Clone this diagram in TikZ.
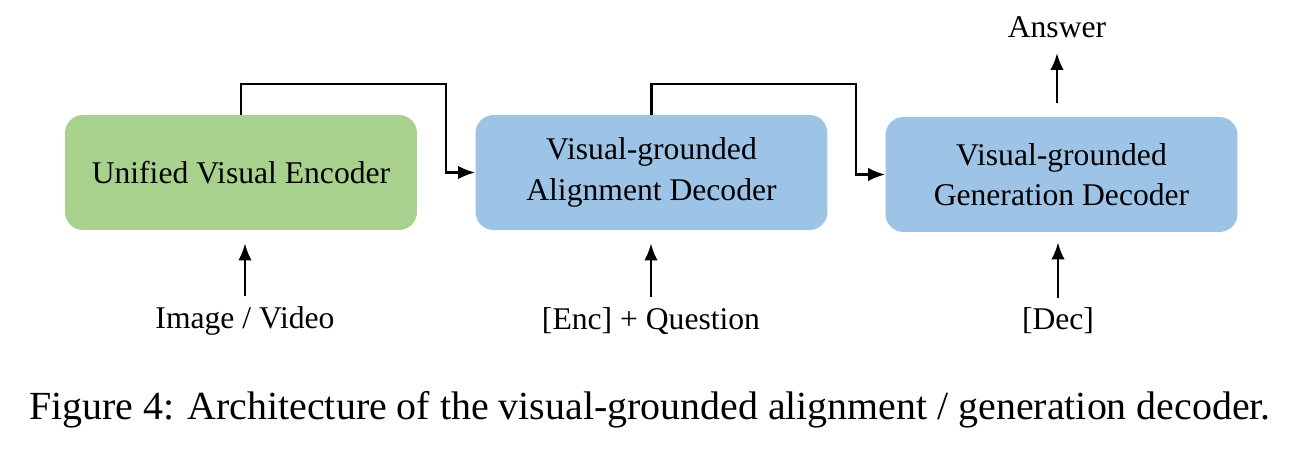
\documentclass[tikz,border=0pt]{standalone}
\usepackage{fontspec}
\setmainfont{Liberation Serif}
\usetikzlibrary{arrows.meta, positioning}

\definecolor{encgreen}{HTML}{A9D18E}
\definecolor{decblue}{HTML}{9DC3E6}

\begin{document}
\begin{tikzpicture}[x=0.02cm, y=-0.02cm,
        block/.style = {rounded corners=0.36cm, minimum width=7.04cm, minimum height=2.3cm,
                        align=center, font=\fontsize{18}{23}\selectfont},
        lbl/.style = {font=\fontsize{18}{22}\selectfont, inner sep=0pt},
        link/.style = {-{Latex[length=0.34cm, width=0.27cm]}, line width=1.5pt}]
                \useasboundingbox (0,0) rectangle (1309,460);

                \node (enc) [block, fill=encgreen] at (241,172.5) {Unified Visual Encoder};
                \node (align) [block, fill=decblue] at (651.5,172.5) {Visual-grounded\\Alignment Decoder};
                \node (gen) [block, fill=decblue] at (1061.5,174.5) {Visual-grounded\\Generation Decoder};

                \node (img) [lbl] at (245,321) {Image / Video};
                \node (encq) [lbl] at (651,321) {[Enc] + Question};
                \node (dec) [lbl] at (1058,321) {[Dec]};
                \node (ans) [lbl] at (1057,27) {Answer};

                \coordinate (k1) at (446,84);
                \coordinate (k2) at (856,84);

                \draw [link] (enc.north) |- (k1) |- (align.west);
                \draw [link] (align.north) |- (k2) |- (gen.west);

                \draw [link, shorten <=0.2cm, shorten >=0.26cm] (img.north) -- (img.north |- enc.south);
                \draw [link, shorten <=0.2cm, shorten >=0.26cm] (encq.north) -- (encq.north |- align.south);
                \draw [link, shorten <=0.2cm, shorten >=0.2cm] (dec.north) -- (dec.north |- gen.south);
                \draw [link, shorten <=0.28cm, shorten >=0.3cm] (gen.north -| ans) -- (ans.south);

                \node (cap) [font=\fontsize{22.7}{27}\selectfont] at (650,410)
                    {Figure 4: Architecture of the visual-grounded alignment / generation decoder.};
            \end{tikzpicture}
\end{document}
